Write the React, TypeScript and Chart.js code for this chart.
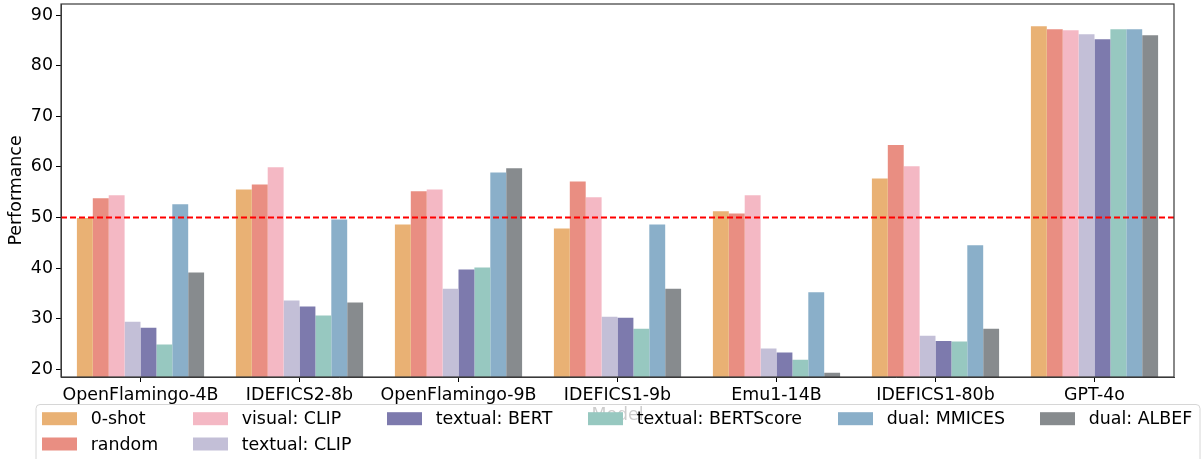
import React, { useEffect, useRef } from "react";
import { Chart, registerables } from "chart.js";

Chart.register(...registerables);

const categories = [
  "OpenFlamingo-4B",
  "IDEFICS2-8b",
  "OpenFlamingo-9B",
  "IDEFICS1-9b",
  "Emu1-14B",
  "IDEFICS1-80b",
  "GPT-4o",
];

const zeroShot = [49.9, 55.5, 48.6, 47.8, 51.2, 57.7, 87.8];
const randomSel = [53.8, 56.5, 55.2, 57.1, 50.8, 64.3, 87.2];
const visualClip = [54.4, 59.9, 55.5, 54.0, 54.4, 60.1, 87.0];
const textualClip = [29.4, 33.6, 35.9, 30.4, 24.1, 26.6, 86.2];
const textualBert = [28.2, 32.4, 39.7, 30.2, 23.3, 25.6, 85.2];
const textualBertScore = [24.9, 30.6, 40.1, 28.0, 21.9, 25.5, 87.2];
const dualMmices = [52.6, 49.6, 58.9, 48.6, 35.2, 44.5, 87.2];
const dualAlbef = [39.1, 33.2, 59.7, 35.9, 19.3, 28.0, 86.0];

const seriesNames = [
  "0-shot",
  "random",
  "visual: CLIP",
  "textual: CLIP",
  "textual: BERT",
  "textual: BERTScore",
  "dual: MMICES",
  "dual: ALBEF",
];
const seriesValues = [
  zeroShot,
  randomSel,
  visualClip,
  textualClip,
  textualBert,
  textualBertScore,
  dualMmices,
  dualAlbef,
];
const seriesColors = [
  "#E9B174",
  "#E98E82",
  "#F4B8C4",
  "#C3BFD7",
  "#7D7AAD",
  "#97C8C0",
  "#8AAFC9",
  "#878B8E",
];

const thresholdValue = 50;
const yMin = 18.47;
const yMax = 92.18;
const yStep = 10;
const yTitle = "Performance";
const xTitle = "Model";

const FONT = "'DejaVu Sans', sans-serif";
const FS = 17.4;

const overlayPlugin = {
  id: "overlay",
  afterDatasetsDraw(chart: any) {
    const { ctx, chartArea, scales } = chart;
    const y = scales.y.getPixelForValue(thresholdValue);
    ctx.save();
    ctx.strokeStyle = "#FF0000";
    ctx.lineWidth = 2;
    ctx.setLineDash([6, 3]);
    ctx.beginPath();
    ctx.moveTo(chartArea.left, y);
    ctx.lineTo(chartArea.right, y);
    ctx.stroke();
    ctx.restore();
  },
  afterDraw(chart: any) {
    const { ctx, chartArea } = chart;
    ctx.save();
    // spines
    ctx.strokeStyle = "#3a3a3a";
    ctx.lineWidth = 1.2;
    ctx.strokeRect(
      chartArea.left,
      chartArea.top,
      chartArea.right - chartArea.left,
      chartArea.bottom - chartArea.top
    );
    // x axis title (hidden under legend)
    ctx.font = `${FS}px ${FONT}`;
    ctx.fillStyle = "#000";
    ctx.textAlign = "center";
    ctx.textBaseline = "middle";
    ctx.fillText(xTitle, (chartArea.left + chartArea.right) / 2, 415);

    // legend
    const boxL = 36;
    const boxT = 404.5;
    const boxR = 1200;
    const boxB = 475;
    ctx.beginPath();
    const r = 4;
    ctx.moveTo(boxL + r, boxT);
    ctx.lineTo(boxR - r, boxT);
    ctx.quadraticCurveTo(boxR, boxT, boxR, boxT + r);
    ctx.lineTo(boxR, boxB);
    ctx.lineTo(boxL, boxB);
    ctx.lineTo(boxL, boxT + r);
    ctx.quadraticCurveTo(boxL, boxT, boxL + r, boxT);
    ctx.closePath();
    ctx.fillStyle = "rgba(255,255,255,0.8)";
    ctx.fill();
    ctx.strokeStyle = "#d6d6d6";
    ctx.lineWidth = 1;
    ctx.stroke();

    const columns: number[][] = [[0, 1], [2, 3], [4], [5], [6], [7]];
    const columnX = [42, 193, 387, 588, 838, 1040];
    const swatchW = 35;
    const swatchH = 13;
    const textPad = 13.7;
    const rowY = [418.7, 444];
    ctx.textAlign = "left";
    ctx.textBaseline = "middle";
    columns.forEach((col, c) => {
      const x = columnX[c];
      col.forEach((idx, row) => {
        const cy = rowY[row];
        ctx.fillStyle = seriesColors[idx];
        ctx.fillRect(x, cy - swatchH / 2, swatchW, swatchH);
        ctx.fillStyle = "#000";
        ctx.fillText(seriesNames[idx], x + swatchW + textPad, cy + 1);
      });
    });
    ctx.restore();
  },
};

export default function App() {
  const canvasRef = useRef<HTMLCanvasElement | null>(null);

  useEffect(() => {
    const canvas = canvasRef.current;
    if (!canvas) return;
    const chart = new Chart(canvas, {
      type: "bar",
      data: {
        labels: categories,
        datasets: seriesNames.map((name, i) => ({
          label: name,
          data: seriesValues[i],
          backgroundColor: seriesColors[i],
          borderWidth: 0,
          categoryPercentage: 0.8,
          barPercentage: 1.0,
        })),
      },
      options: {
        animation: false,
        responsive: false,
        devicePixelRatio: 1,
        layout: { padding: { top: 4, right: 30, left: 0, bottom: 0 } },
        plugins: {
          legend: { display: false },
          tooltip: { enabled: false },
          title: { display: false },
        },
        scales: {
          x: {
            type: "category",
            offset: true,
            grid: {
              display: true,
              drawOnChartArea: false,
              drawTicks: true,
              tickLength: 5,
              offset: false,
              color: "#000",
            },
            border: { display: true, color: "#3a3a3a", width: 1 },
            ticks: {
              font: { family: FONT, size: FS },
              color: "#000",
              padding: 3,
              maxRotation: 0,
              autoSkip: false,
            },
            afterFit: (s: any) => {
              s.height = 82;
              s.paddingLeft = 0;
              s.paddingRight = 0;
            },
          },
          y: {
            min: yMin,
            max: yMax,
            grid: {
              display: true,
              drawOnChartArea: false,
              drawTicks: true,
              tickLength: 5,
              color: "#000",
            },
            border: { display: true, color: "#3a3a3a", width: 1 },
            ticks: {
              stepSize: yStep,
              includeBounds: false,
              font: { family: FONT, size: FS },
              color: "#000",
              padding: 3,
            },
            title: {
              display: true,
              text: yTitle,
              font: { family: FONT, size: FS },
              color: "#000",
              padding: { top: 6, bottom: 0 },
            },
            afterFit: (s: any) => {
              s.width = 61;
              s.paddingTop = 0;
              s.paddingBottom = 0;
            },
          },
        },
      },
      plugins: [overlayPlugin],
    });
    return () => chart.destroy();
  }, []);

  return (
    <div
      style={{
        position: "fixed",
        left: 0,
        top: 0,
        width: 1204,
        height: 459,
        background: "#fff",
      }}
    >
      <canvas ref={canvasRef} width={1204} height={459} />
    </div>
  );
}
